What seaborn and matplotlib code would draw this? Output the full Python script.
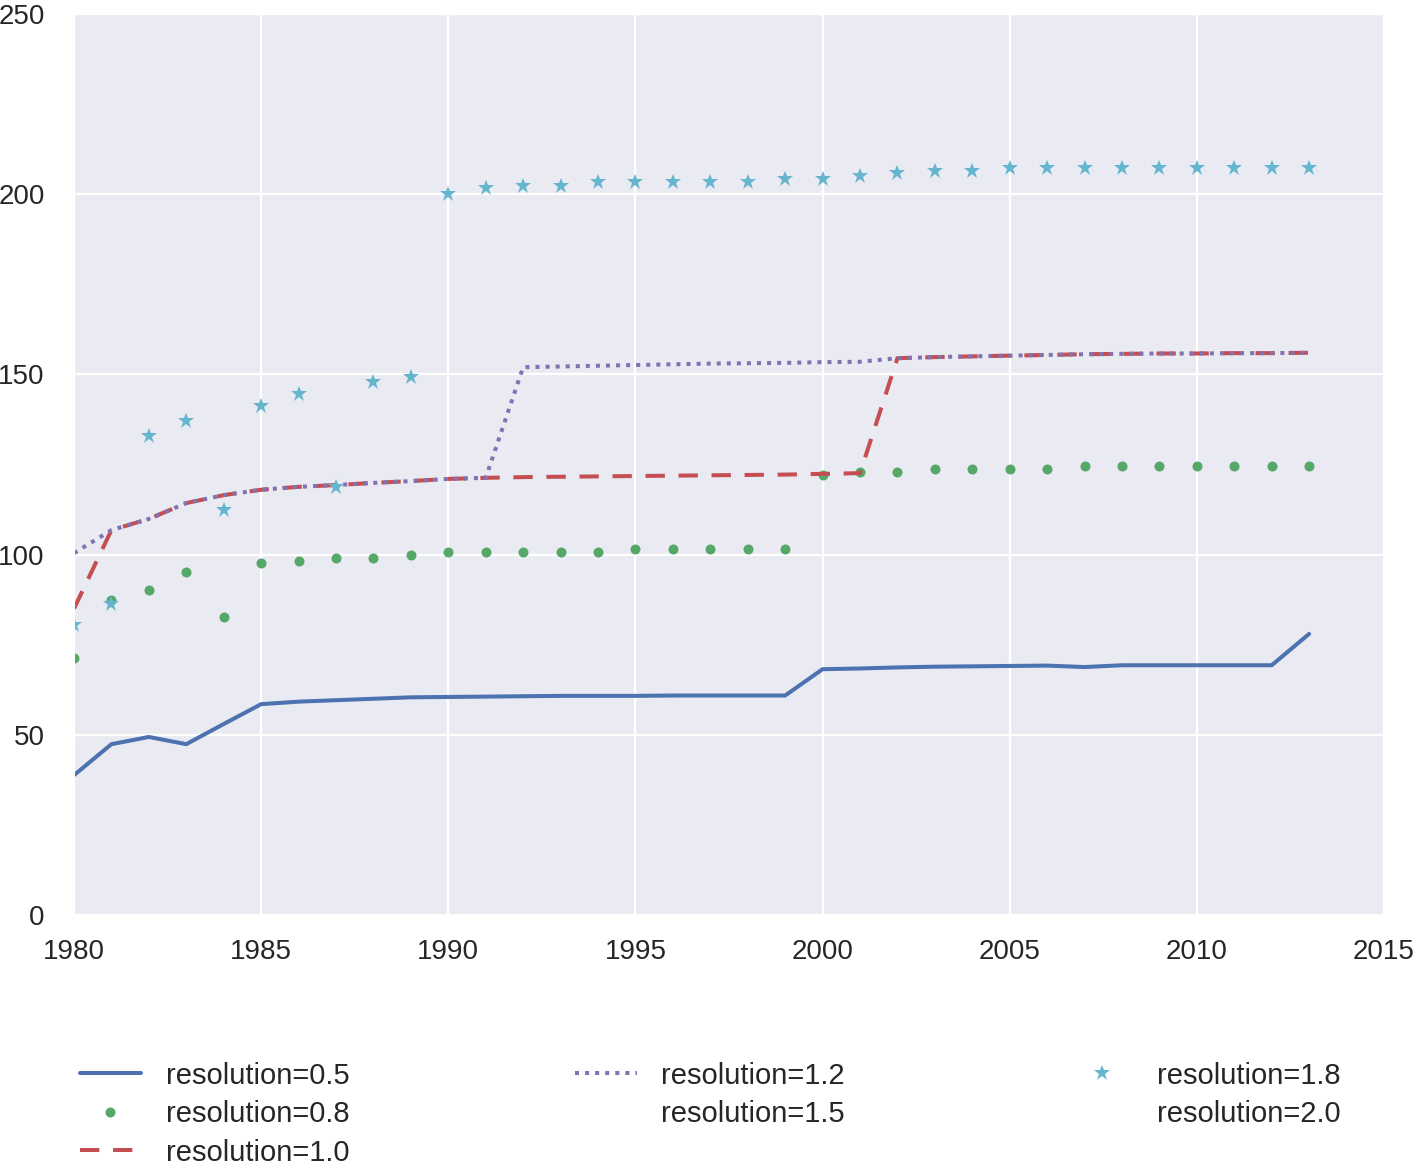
import numpy as np
import pandas as pd
import matplotlib
matplotlib.use("Agg")
import matplotlib.pyplot as plt
import seaborn as sns

years = list(range(1980, 2014))

res_05 = [38.8, 47.4, 49.4, 47.4, 53.0, 58.5, 59.2, 59.6, 60.0, 60.4,
          60.5, 60.6, 60.7, 60.8, 60.8, 60.8, 60.9, 60.9, 60.9, 60.9,
          68.2, 68.4, 68.7, 68.9, 69.0, 69.1, 69.2, 68.8, 69.3, 69.3,
          69.3, 69.3, 69.3, 78.0]
res_08 = [71.3, 87.4, 90.2, 95.2, 82.7, 97.7, 98.2, 99.0, 99.0, 99.9,
          100.7, 100.7, 100.7, 100.7, 100.7, 101.5, 101.5, 101.5, 101.5, 101.5,
          122.1, 122.9, 122.9, 123.7, 123.7, 123.7, 123.7, 124.5, 124.5, 124.5,
          124.5, 124.5, 124.5, 124.5]
res_10 = [85.0, 106.8, 109.9, 114.3, 116.5, 118.0, 118.8, 119.3, 119.9, 120.4,
          121.0, 121.3, 121.5, 121.6, 121.7, 121.8, 121.9, 122.0, 122.1, 122.2,
          122.4, 122.6, 154.5, 154.8, 155.0, 155.2, 155.4, 155.6, 155.7, 155.8,
          155.8, 155.9, 155.9, 156.0]
res_12 = [100.4, 106.8, 109.9, 114.3, 116.5, 118.0, 118.8, 119.3, 119.9, 120.4,
          121.0, 121.3, 152.0, 152.2, 152.4, 152.6, 152.8, 153.0, 153.1, 153.2,
          153.4, 153.5, 154.5, 154.8, 155.0, 155.2, 155.4, 155.6, 155.7, 155.8,
          155.8, 155.9, 155.9, 156.0]
res_15 = [np.nan] * len(years)
res_18 = [80.5, 86.3, 132.9, 137.0, 112.4, 141.2, 144.6, 118.8, 147.9, 149.3,
          200.0, 201.7, 202.4, 202.4, 203.4, 203.4, 203.4, 203.4, 203.4, 204.2,
          204.2, 205.0, 205.9, 206.4, 206.4, 207.3, 207.3, 207.3, 207.3, 207.3,
          207.3, 207.3, 207.3, 207.3]
res_20 = [np.nan] * len(years)

labels = ["resolution=0.5", "resolution=0.8", "resolution=1.0", "resolution=1.2",
          "resolution=1.5", "resolution=1.8", "resolution=2.0"]

sns.set_style("darkgrid")
plt.rcParams['font.family'] = ['Liberation Sans', 'DejaVu Sans']
plt.rcParams['text.color'] = '#262626'
plt.rcParams['xtick.color'] = '#262626'
plt.rcParams['ytick.color'] = '#262626'

deep = ["#4C72B0", "#55A868", "#C44E52", "#8172B2", "#CCB974", "#64B5CD"]

fig = plt.figure(figsize=(14.16, 11.73), dpi=100)
ax = fig.add_axes([74/1416, 1-915/1173, (1384-74)/1416, (915-14)/1173])

df = pd.DataFrame({"year": years, "r05": res_05, "r08": res_08, "r10": res_10,
                   "r12": res_12, "r15": res_15, "r18": res_18, "r20": res_20})

LW = 2.9
sns.lineplot(data=df, x="year", y="r05", ax=ax, color=deep[0], linewidth=LW,
             label=labels[0])
sns.lineplot(data=df, x="year", y="r08", ax=ax, color=deep[1], linestyle='none',
             marker='o', markersize=7.2, markeredgewidth=0, label=labels[1])
sns.lineplot(data=df, x="year", y="r10", ax=ax, color=deep[2], linewidth=LW,
             label=labels[2])
ax.lines[-1].set_dashes([4.8, 3.4])
sns.lineplot(data=df, x="year", y="r12", ax=ax, color=deep[3], linewidth=LW,
             label=labels[3])
ax.lines[-1].set_dashes([1.0, 1.5])
ax.plot(df["year"], df["r15"], color=deep[4], linestyle='none', label=labels[4])
sns.lineplot(data=df, x="year", y="r18", ax=ax, color=deep[5], linestyle='none',
             marker='*', markersize=12, markeredgewidth=0, label=labels[5])
ax.plot(df["year"], df["r20"], color=deep[0], linestyle='none', label=labels[6])

ax.set_xlim(1980, 2015)
ax.set_ylim(0, 250)
ax.set_xticks(range(1980, 2016, 5))
ax.set_yticks(range(0, 251, 50))
ax.set_xlabel("")
ax.set_ylabel("")
ax.tick_params(axis='x', labelsize=20, pad=17, length=0)
ax.tick_params(axis='y', labelsize=20, pad=21, length=0)
ax.grid(True, color='white', linewidth=1.6)

handles, labs = ax.get_legend_handles_labels()
ax.get_legend().remove()
fig.legend(handles, labs, loc='upper left', bbox_to_anchor=(68/1416, 1-1050/1173),
           ncol=3, frameon=False, fontsize=21, handlelength=2.1, handletextpad=0.85,
           columnspacing=7.75, labelspacing=0.36, borderaxespad=0)

fig.savefig("out.png", dpi=100)
